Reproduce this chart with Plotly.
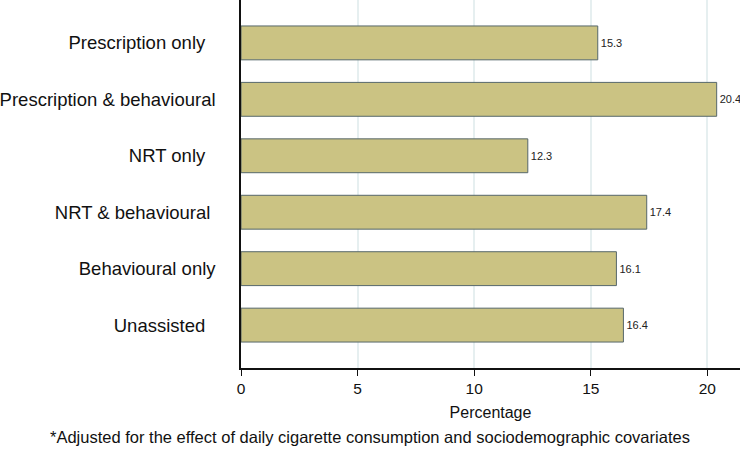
import plotly.graph_objects as go

categories = [
    "Prescription only",
    "Prescription & behavioural",
    "NRT only",
    "NRT & behavioural",
    "Behavioural only",
    "Unassisted",
]
percentages = [15.3, 20.4, 12.3, 17.4, 16.1, 16.4]
# trailing padding seen on some labels in the original
label_pad = [2, 0, 2, 1, 0, 2]
x_ticks = [0, 5, 10, 15, 20]

FONT = "Liberation Sans, Arial, sans-serif"
BAR_FILL = "#cbc383"
BAR_EDGE = "#56676a"

W, H = 740, 450
L, B = 241, 82

ticktext = [c + "\u00a0" * p for c, p in zip(categories, label_pad)]

fig = go.Figure(
    go.Bar(
        x=percentages,
        y=categories,
        orientation="h",
        width=0.6,
        marker=dict(color=BAR_FILL, line=dict(color=BAR_EDGE, width=1)),
        text=[f"{v:.1f}" for v in percentages],
        textposition="outside",
        textfont=dict(size=11, color="#222222", family=FONT),
        cliponaxis=False,
        showlegend=False,
    )
)

fig.update_layout(
    width=W,
    height=H,
    margin=dict(l=L, r=0, t=0, b=B),
    paper_bgcolor="white",
    plot_bgcolor="white",
    font=dict(family=FONT, color="#111111"),
    xaxis=dict(
        range=[0, 21.4],
        tickvals=x_ticks,
        ticks="outside",
        ticklen=6,
        tickcolor="#111111",
        tickfont=dict(size=15.5),
        showline=True,
        linecolor="#111111",
        linewidth=1.5,
        showgrid=True,
        gridcolor="#e6eff0",
        gridwidth=1.5,
        zeroline=False,
        title=dict(text="Percentage", font=dict(size=16), standoff=10),
    ),
    yaxis=dict(
        categoryorder="array",
        categoryarray=categories,
        tickvals=categories,
        ticktext=ticktext,
        range=[5.76, -0.76],
        ticks="",
        tickfont=dict(size=18.5),
        ticklabelstandoff=20,
        showline=True,
        linecolor="#111111",
        linewidth=1.5,
        showgrid=False,
        zeroline=False,
    ),
    annotations=[
        dict(
            text="*Adjusted for the effect of daily cigarette consumption and sociodemographic covariates",
            x=(48 - L) / (W - L),
            y=-(437 - (H - B)) / (H - B),
            xref="paper", yref="paper",
            xanchor="left", yanchor="middle",
            showarrow=False,
            font=dict(size=16.5, color="#111111"),
        )
    ],
)

fig.write_html(
    "out.html",
    config={"displayModeBar": False},
    post_script="document.body.style.margin='0';",
)
